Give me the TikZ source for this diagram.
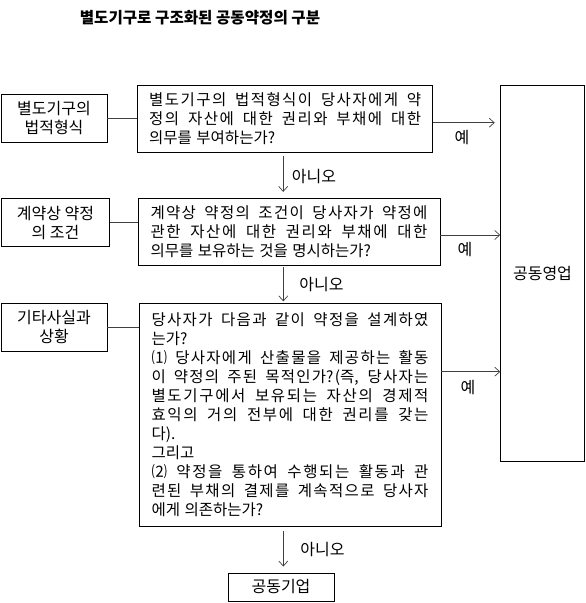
\documentclass[tikz,border=0pt]{standalone}
\usepackage{fontspec}
\setmainfont{Noto Sans CJK KR}
\usetikzlibrary{arrows.meta}
\tolerance=10000
\hbadness=10000
\XeTeXlinebreaklocale "ko"
\XeTeXlinebreakskip=0pt plus 1pt minus 0.4pt
\newcommand\qspacing{\spaceskip=4.5pt plus 3pt minus 1pt\relax}

\begin{document}
\begin{tikzpicture}[x=1pt, y=-1pt,
    txt/.style={font=\fontsize{16}{19}\selectfont},
    qtxt/.style={font=\fontsize{15.5}{19}\selectfont\qspacing},
    sidebox/.style={txt, draw, line width=0.9pt, align=center, inner sep=0pt,
      minimum width=106pt, minimum height=48pt},
    qbox/.style={qtxt, draw, line width=0.9pt, align=justify, inner ysep=4pt},
    endbox/.style={txt, draw, line width=0.9pt, inner sep=0pt},
    conn/.style={draw=black!75, line width=0.7pt},
    arr/.style={conn, -{Straight Barb[length=5pt, width=9pt]}}]
    \useasboundingbox (0,0) rectangle (586,603);
    % Title
    \node[font=\fontsize{15.6}{19}\selectfont\bfseries] (title) at (200,18)
      {별도기구로 구조화된 공동약정의 구분};
    % Left column
    \node[sidebox] (form) at (54,118.2) {별도기구의\\법적형식};
    \node[sidebox, minimum width=107.6pt] (terms) at (55.5,222.8) {계약상 약정\\의 조건};
    \node[sidebox] (facts) at (54,327.2) {기타사실과\\상황};
    % Questions
    \node[qbox, text width=272pt, inner xsep=11.5pt, minimum height=67.4pt] (q1) at (285.2,119)
      {별도기구의 법적형식이 당사자에게 약\linebreak 정의 자산에 대한 권리와 부채에 대한\linebreak 의무를 부여하는가?};
    \node[qbox, text width=277pt, inner xsep=12.5pt, minimum height=66.7pt] (q2) at (289,231.7)
      {계약상 약정의 조건이 당사자가 약정에\linebreak 관한 자산에 대한 권리와 부채에 대한\linebreak 의무를 보유하는 것을 명시하는가?};
    \node[qbox, text width=277pt, inner xsep=12.5pt, minimum height=222.7pt] (q3) at (290,414.7)
      {당사자가 다음과 같이 약정을 설계하였\linebreak 는가?\\
       ⑴ 당사자에게 산출물을 제공하는 활동\linebreak 이 약정의 주된 목적인가?(즉, 당사자는\linebreak
       별도기구에서 보유되는 자산의 경제적\linebreak 효익의 거의 전부에 대한 권리를 갖는\linebreak 다).\\
       그리고\\
       ⑵ 약정을 통하여 수행되는 활동과 관\linebreak 련된 부채의 결제를 계속적으로 당사자\linebreak 에게 의존하는가?};
    % Outcomes
    \node[endbox, minimum width=83.6pt, minimum height=376.7pt] (jo) at (542.5,273.3) {공동영업};
    \node[endbox, minimum width=106pt, minimum height=28pt] (jv) at (281,587) {공동기업};
    % Links from left column
    \draw[conn] (form.east) -- (form.east -| q1.west);
    \draw[conn] (terms.east) -- (terms.east -| q2.west);
    \draw[conn] (facts.east) -- (facts.east -| q3.west);
    % Yes arrows
    \draw[arr, shorten >=5.5pt] ([yshift=-3.7pt]q1.east) -- ([yshift=-3.7pt]q1.east -| jo.west);
    \draw[arr] ([yshift=-3.3pt]q2.east) -- ([yshift=-3.3pt]q2.east -| jo.west);
    \draw[arr] ([yshift=43pt]q3.east) -- ([yshift=43pt]q3.east -| jo.west);
    \node[txt] (yes1) at (462,138) {예};
    \node[txt] (yes2) at (465,250) {예};
    \node[txt] (yes3) at (468,388) {예};
    % No arrows
    \draw[arr, shorten <=3pt, shorten >=6pt] ([xshift=-2pt]q1.south) -- ([xshift=-2pt]q1.south |- q2.north);
    \draw[arr, shorten <=1.5pt, shorten >=1.5pt] ([xshift=-5.7pt]q2.south) -- ([xshift=-5.7pt]q2.south |- q3.north);
    \draw[arr, shorten <=4pt, shorten >=6pt] ([xshift=-6.7pt]q3.south) -- ([xshift=-6.7pt]q3.south |- jv.north);
    \node[txt] (no1) at (314,177) {아니오};
    \node[txt] (no2) at (321.5,285) {아니오};
    \node[txt] (no3) at (322.5,549.3) {아니오};
\end{tikzpicture}
\end{document}
